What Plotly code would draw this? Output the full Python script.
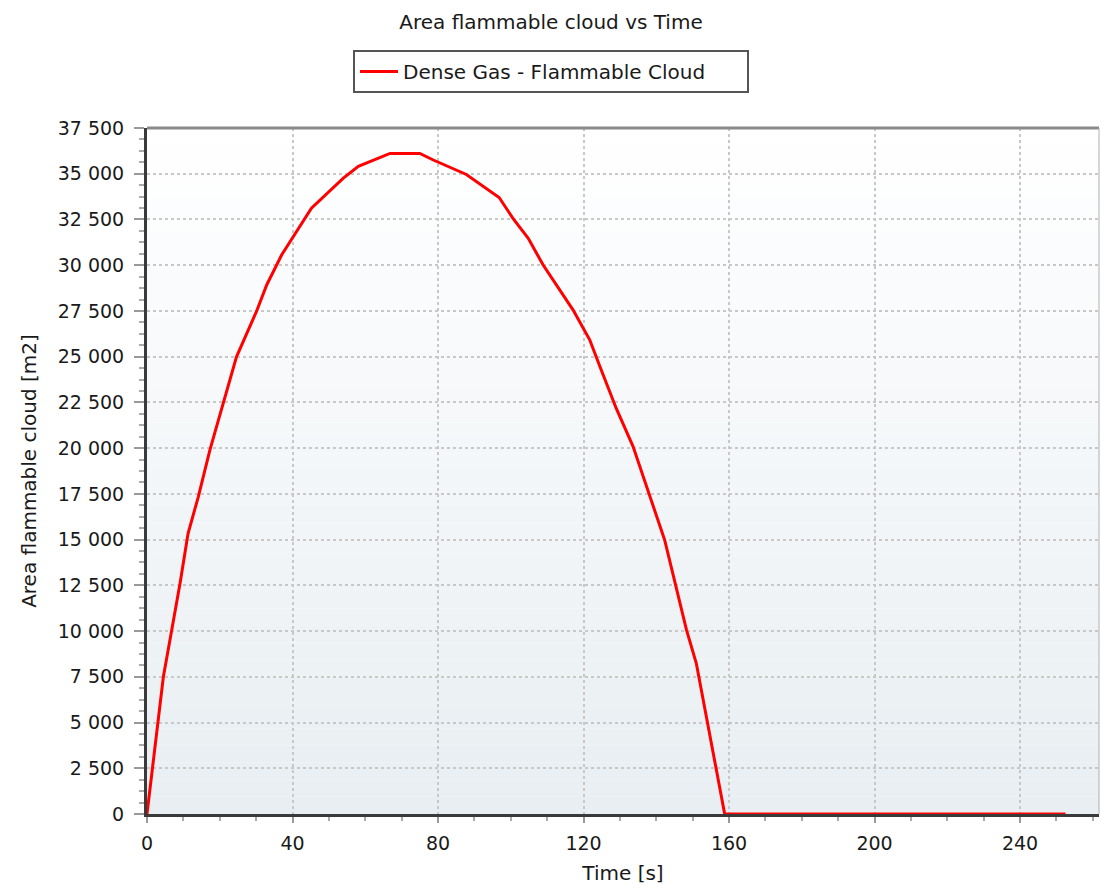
import plotly.graph_objects as go

time_s = [0, 1.7, 4.5, 6.8, 9.1, 11.3, 14.1, 17.3, 21.0, 24.6, 30.1, 32.9, 37.0,
          45.2, 53.9, 58.1, 66.8, 75.0, 78.7, 87.8, 96.8, 100.6, 104.8, 108.9,
          117.1, 121.7, 124.5, 129.0, 133.6, 138.2, 142.3, 148.3, 151.0, 158.8, 252.5]
area_m2 = [0, 2770, 7500, 10060, 12630, 15340, 17340, 19900, 22450, 24990, 27470,
           28920, 30560, 33120, 34750, 35400, 36110, 36110, 35750, 34960, 33700,
           32560, 31470, 30010, 27560, 25920, 24460, 22170, 20100, 17350, 14980,
           10060, 8240, 0, 0]

series_name = "Dense Gas - Flammable Cloud"
x_ticks = [0, 40, 80, 120, 160, 200, 240]
y_ticks = list(range(0, 37501, 2500))

FONT = "DejaVu Sans"
TXT = "#1a1a1a"

fig = go.Figure()
fig.add_trace(go.Scatter(x=time_s, y=area_m2, mode="lines", name=series_name,
                         line=dict(color="#ff0000", width=3), showlegend=True))

# background gradient (white at top to pale blue-grey at bottom)
n = 40
top = (255, 255, 255)
bot = (232, 238, 242)
shapes = []
for i in range(n):
    f = (i + 0.5) / n
    c = tuple(round(top[k] + (bot[k] - top[k]) * f) for k in range(3))
    shapes.append(dict(type="rect", xref="x domain", yref="y domain",
                       x0=0, x1=1, y0=1 - (i + 1) / n, y1=1 - i / n,
                       fillcolor="rgb(%d,%d,%d)" % c, line=dict(width=0), layer="below"))
# top and right frame lines
shapes.append(dict(type="line", xref="x domain", yref="y domain", x0=0, x1=1, y0=1, y1=1,
                   line=dict(color="#8a8a8a", width=3)))
shapes.append(dict(type="line", xref="x domain", yref="y domain", x0=1, x1=1, y0=0, y1=1,
                   line=dict(color="#b0b0b0", width=1)))

fig.update_layout(
    width=1102, height=890,
    margin=dict(l=147, r=3, t=128, b=76),
    paper_bgcolor="white", plot_bgcolor="rgba(0,0,0,0)",
    separators=". ",
    font=dict(family=FONT, size=19, color=TXT),
    title=dict(text="Area flammable cloud vs Time", x=0.5, xanchor="center",
               y=1 - 22 / 890, yanchor="middle", font=dict(size=20, family=FONT, color=TXT)),
    legend=dict(orientation="h", xref="container", yref="container",
                x=0.5, xanchor="center", y=1 - 50 / 890, yanchor="top",
                bordercolor="#555555", borderwidth=2, bgcolor="white",
                itemwidth=38, entrywidth=339, font=dict(size=20, family=FONT, color=TXT)),
    shapes=shapes,
    xaxis=dict(range=[0, 261.7], tickvals=x_ticks, ticks="outside", ticklen=6,
               tickcolor="#999999", tickwidth=2,
               minor=dict(dtick=10, tick0=0, ticks="outside", ticklen=4, tickcolor="#aaaaaa",
                          tickwidth=2, showgrid=False),
               showgrid=True, gridcolor="#c8c8c8", gridwidth=1.5, griddash="dot",
               showline=True, linecolor="#3a3a3a", linewidth=3, zeroline=False,
               automargin=False, ticklabelstandoff=4,
               title=dict(text="Time [s]", standoff=14,
                          font=dict(size=20, family=FONT, color=TXT)),
               tickfont=dict(size=19, family=FONT, color=TXT)),
    yaxis=dict(range=[0, 37500], tickvals=y_ticks, ticks="outside", ticklen=10,
               tickcolor="#999999", tickwidth=2,
               minor=dict(dtick=625, tick0=0, ticks="outside", ticklen=5, tickcolor="#aaaaaa",
                          tickwidth=2, showgrid=False),
               showgrid=True, gridcolor="#c8c8c8", gridwidth=1.5, griddash="dot",
               showline=True, linecolor="#3a3a3a", linewidth=3, zeroline=False,
               tickformat=",d", ticklabelstandoff=6, automargin=False,
               title=dict(text="Area flammable cloud [m2]", standoff=16,
                          font=dict(size=20, family=FONT, color=TXT)),
               tickfont=dict(size=19, family=FONT, color=TXT)),
)

fig.write_html("out.html", config={"displayModeBar": False},
               post_script="document.body.style.margin='0';")
